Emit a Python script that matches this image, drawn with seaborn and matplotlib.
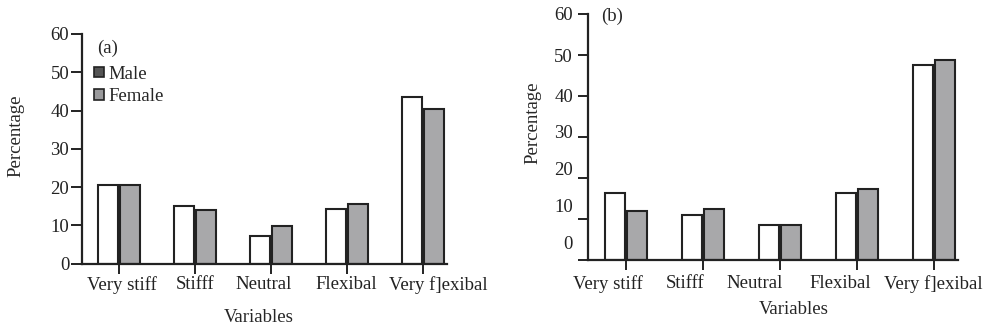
import matplotlib
matplotlib.use("Agg")
import matplotlib.pyplot as plt
from matplotlib.patches import Patch
from matplotlib.transforms import ScaledTranslation
import seaborn as sns
import pandas as pd

categories = ["Very stiff", "Stifff", "Neutral", "Flexibal", "Very f]exibal"]
male_a = [20.6, 15.0, 7.2, 14.2, 43.6]
female_a = [20.6, 14.0, 9.8, 15.5, 40.3]
male_b = [16.3, 11.0, 8.6, 16.4, 47.6]
female_b = [12.0, 12.5, 8.6, 17.4, 48.8]
groups = ["Male", "Female"]
yticks = [0, 10, 20, 30, 40, 50, 60]
b_labels_low = ["0", "10", "20", "30"]
b_label_pos = [4.3, 13.4, 22.4, 31.4]

sns.set_style("ticks")
plt.rcParams["font.family"] = ["Liberation Serif", "DejaVu Serif"]
plt.rcParams["font.size"] = 13

FS = 13.5

def make_df(m, f):
    return pd.DataFrame({
        "Variables": categories * 2,
        "Percentage": list(m) + list(f),
        "Sex": ["Male"] * len(categories) + ["Female"] * len(categories),
    })

fig = plt.figure(figsize=(9.85, 3.29), dpi=100)
W, H = 985, 329
ax1 = fig.add_axes([81.7 / W, (H - 263.7) / H, 365 / W, 229.7 / H])
ax2 = fig.add_axes([588.3 / W, (H - 260) / H, 369.4 / W, 246 / H])

pal = {"Male": "white", "Female": "#a8a8aa"}
for ax, m, f in [(ax1, male_a, female_a), (ax2, male_b, female_b)]:
    sns.barplot(data=make_df(m, f), x="Variables", y="Percentage", hue="Sex",
                hue_order=groups, palette=pal, width=0.58, gap=0.1,
                edgecolor="#222222", linewidth=1.5, legend=False, ax=ax)
    ax.set_xlim(-0.49, 4.31)
    ax.set_ylim(0, 60)
    sns.despine(ax=ax)
    for s in ("left", "bottom"):
        ax.spines[s].set_linewidth(1.6)
        ax.spines[s].set_color("#222222")
    ax.tick_params(axis="both", colors="#222222", width=1.4, labelsize=FS,
                   labelcolor="#222222")
    ax.tick_params(axis="x", length=7)

def shift_xlabels(ax, offsets_px):
    for lab, dx in zip(ax.get_xticklabels(), offsets_px):
        lab.set_transform(lab.get_transform()
                          + ScaledTranslation(dx / 100, 0, fig.dpi_scale_trans))

# Panel (a)
ax1.set_yticks(yticks)
ax1.tick_params(axis="y", length=8, pad=1)
ax1.tick_params(axis="x", pad=2)
ax1.set_xlabel("Variables", fontsize=FS)
ax1.set_ylabel("Percentage", fontsize=FS)
ax1.xaxis.set_label_coords((258.3 - 81.7) / 365, -(309.5 - 263.7) / 229.7)
ax1.yaxis.set_label_coords((24.5 - 81.7) / 365, (263.7 - 136) / 229.7)
ax1.text(0.041, 0.938, "(a)", transform=ax1.transAxes, fontsize=FS,
         ha="left", va="center")
handles = [Patch(facecolor="#555555", edgecolor="#222222", linewidth=1.2),
           Patch(facecolor="#9a9a9c", edgecolor="#222222", linewidth=1.2)]
ax1.legend(handles, groups, loc="upper left", bbox_to_anchor=(0.035, 0.862),
           frameon=False, fontsize=FS, handlelength=0.5, handleheight=0.5,
           handletextpad=0.25, labelspacing=0.3, borderpad=0, borderaxespad=0)
shift_xlabels(ax1, [3, 0, -7, -1, 15])

# Panel (b)
ax2.set_yticks(yticks)
ax2.set_yticklabels(["", "", "", "", "40", "50", "60"])
ax2.set_yticks(b_label_pos, minor=True)
ax2.set_yticklabels(b_labels_low, minor=True)
ax2.tick_params(axis="y", which="major", length=7, pad=4)
ax2.tick_params(axis="y", which="minor", length=0, pad=11, labelsize=FS,
                labelcolor="#222222")
ax2.tick_params(axis="x", pad=4)
ax2.set_xlabel("Variables", fontsize=FS)
ax2.set_ylabel("Percentage", fontsize=FS)
ax2.xaxis.set_label_coords((794 - 588.3) / 369.4, -(301 - 260) / 246)
ax2.yaxis.set_label_coords((541 - 588.3) / 369.4, (260 - 123) / 246)
ax2.text(0.036, 0.99, "(b)", transform=ax2.transAxes, fontsize=FS,
         ha="left", va="center")
shift_xlabels(ax2, [-18, -18, -25, -17, -1])

fig.savefig("out.png", dpi=100)
